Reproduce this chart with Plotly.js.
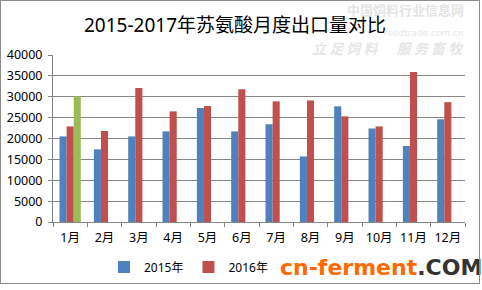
<!DOCTYPE html>
<html><head><meta charset="utf-8">
<script src="https://cdn.plot.ly/plotly-3.0.1.min.js"></script>
<style>html,body{margin:0;padding:0;background:#fff}#frame{position:absolute;left:0;top:0;width:478px;height:282px;border:1px solid #8c8c8c;pointer-events:none}</style>
</head><body>
<div id="chart" style="width:482px;height:290px"></div>
<div id="frame"></div>
<script>
const months = ["1月","2月","3月","4月","5月","6月","7月","8月","9月","10月","11月","12月"];
const v2015 = [20500,17400,20500,21700,27300,21700,23400,15700,27700,22400,18200,24600];
const v2016 = [22900,21800,32100,26500,27800,31800,28900,29100,25300,22900,35900,28700];
const v2017 = [30100,null,null,null,null,null,null,null,null,null,null,null];

const cjk = '"Noto Sans", "Noto Sans CJK SC", sans-serif';
const data = [
  {type:'bar', name:'2015年', x:months, y:v2015, marker:{color:'#4F81BD'}},
  {type:'bar', name:'2016年', x:months, y:v2016, marker:{color:'#C0504D'}},
  {type:'bar', name:'2017年', x:months, y:v2017, marker:{color:'#9BBB59'}, showlegend:false}
];
const layout = {
  width:482, height:290,
  margin:{l:53, r:17, t:55, b:68},
  paper_bgcolor:'#fff', plot_bgcolor:'#fff',
  barmode:'group', bargap:0.38, bargroupgap:0,
  font:{family:cjk, size:12.5, color:'#000'},
  title:{text:'2015-2017年苏氨酸月度出口量对比', font:{family:cjk, size:19, color:'#000'},
         x:235/482, xanchor:'center', xref:'container', y:1-25/290, yanchor:'middle', yref:'container'},
  xaxis:{type:'category', tickson:'boundaries', ticks:'outside', ticklen:4, tickcolor:'#868686',
         showline:true, linecolor:'#868686', linewidth:1, showgrid:false, ticklabelstandoff:4,
         tickangle:0, tickfont:{size:12.5}},
  yaxis:{range:[0,40000], dtick:5000, tick0:0, tickformat:'d', ticks:'outside', ticklen:4, tickcolor:'#868686',
         showline:true, linecolor:'#868686', linewidth:1, gridcolor:'#868686', gridwidth:1,
         zeroline:false, tickfont:{size:12.5}, ticklabelstandoff:3},
  showlegend:true,
  legend:{orientation:'h', x:104/482, xanchor:'left', y:1-267/290, yanchor:'middle',
          xref:'container', yref:'container', font:{size:12}, bgcolor:'rgba(0,0,0,0)', itemwidth:30},
  annotations:[
    {text:'<span style="color:#FF6A00">cn-ferment</span><span style="color:#333333">.COM</span>',
     xref:'paper', yref:'paper', x:(278-53)/412, y:-(267-222)/167, xanchor:'left', yanchor:'middle',
     showarrow:false, font:{family:'"DejaVu Sans", sans-serif', size:22, weight:'bold'}},
    {text:'中国饲料行业信息网', xref:'paper', yref:'paper', x:(466-53)/412, y:(222-9)/167,
     xanchor:'right', yanchor:'middle', showarrow:false, font:{family:'"Noto Sans CJK SC"', size:13, color:'#e4e4e4', weight:'bold'}},
    {text:'feedtrade.com.cn', xref:'paper', yref:'paper', x:(466-53)/412, y:(222-33)/167,
     xanchor:'right', yanchor:'middle', showarrow:false, font:{family:'"DejaVu Sans"', size:9, color:'#e8e8e8'}},
    {text:'立 足 饲 料      服 务 畜 牧', xref:'paper', yref:'paper', x:(466-53)/412, y:(222-48)/167,
     xanchor:'right', yanchor:'middle', showarrow:false, font:{family:'"Noto Sans CJK SC"', size:14, color:'#e6e6e6', style:'italic', weight:'bold'}}
  ]
};
Plotly.newPlot('chart', data, layout, {displayModeBar:false, staticPlot:true});
</script>
</body></html>
